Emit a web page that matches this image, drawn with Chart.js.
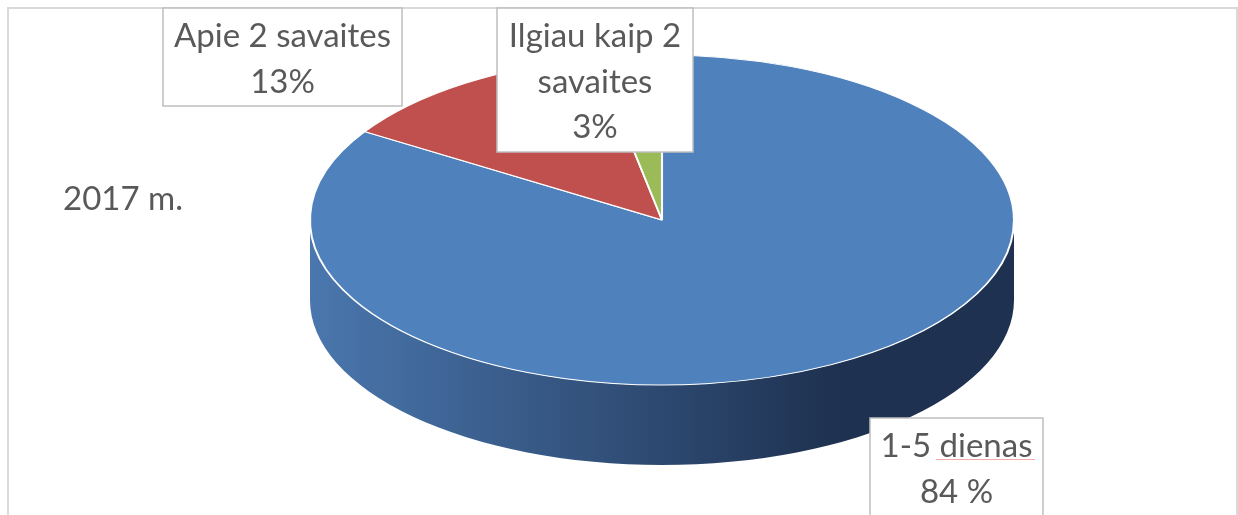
<!DOCTYPE html>
<html>
<head>
<meta charset="utf-8">
<script src="https://cdn.jsdelivr.net/npm/chart.js@4/dist/chart.umd.min.js"></script>
<style>
  html, body { margin: 0; padding: 0; background: #fff; }
  #wrap { width: 1238px; height: 515px; position: relative; }
</style>
</head>
<body>
<div id="wrap"><canvas id="pie" width="1238" height="515"></canvas></div>
<script>
const categories = ["1-5 dienas", "Apie 2 savaites", "Ilgiau kaip 2 savaites"];
const shares = [84, 13, 3];
const shareLabels = ["84 %", "13%", "3%"];
const seriesTitle = "2017 m.";

const sliceColors = ["#4f81bd", "#c0504d", "#9bbb59"];
const wallLeft = ["#4a77ae", "#b04a47", "#8eab52"];
const wallRight = ["#1e3150", "#4a1f1e", "#3c4922"];

// ellipse of the pie's top face and the depth of its side
const EX = 662, EY = 220, RX = 352, RY = 165, DEPTH = 80;

// where the label boxes sit, per category
const boxes = [
  { x: 870, y: 418, w: 173, h: 110 },
  { x: 163, y: 8, w: 239, h: 98 },
  { x: 497, y: 8, w: 196, h: 144 }
];

const FONT = "33px Lato, Carlito, Calibri, sans-serif";
const TEXT = "#595959";

function wrapText(ctx, text, maxW) {
  const words = text.split(" ");
  const lines = [];
  let cur = "";
  words.forEach(w => {
    const t = cur ? cur + " " + w : w;
    if (cur && ctx.measureText(t).width > maxW) {
      lines.push(cur);
      cur = w;
    } else cur = t;
  });
  if (cur) lines.push(cur);
  return lines;
}

const pie3d = {
  id: "pie3d",
  beforeDatasetsDraw(chart) {
    const ctx = chart.ctx;
    const arcs = chart.getDatasetMeta(0).data;
    // side wall, front half only (angles 0..PI on screen)
    arcs.forEach((arc, i) => {
      let a0 = arc.startAngle, a1 = arc.endAngle;
      for (let k = -1; k <= 1; k++) {
        const lo = Math.max(a0, k * 2 * Math.PI);
        const hi = Math.min(a1, k * 2 * Math.PI + Math.PI);
        if (hi <= lo) continue;
        const g = ctx.createLinearGradient(EX - RX, 0, EX + RX, 0);
        g.addColorStop(0, wallLeft[i]);
        g.addColorStop(0.75, wallRight[i]);
        g.addColorStop(1, wallRight[i]);
        ctx.beginPath();
        ctx.ellipse(EX, EY, RX, RY, 0, lo, hi, false);
        ctx.lineTo(EX + RX * Math.cos(hi), EY + DEPTH + RY * Math.sin(hi));
        ctx.ellipse(EX, EY + DEPTH, RX, RY, 0, hi, lo, true);
        ctx.closePath();
        ctx.fillStyle = g;
        ctx.fill();
      }
    });
    // squash the library's circle onto the top-face ellipse
    const a = arcs[0];
    ctx.save();
    ctx.translate(EX, EY);
    ctx.scale(RX / a.outerRadius, RY / a.outerRadius);
    ctx.translate(-a.x, -a.y);
  },
  afterDatasetsDraw(chart) {
    chart.ctx.restore();
  },
  afterDraw(chart) {
    const ctx = chart.ctx;
    ctx.save();
    // chart frame
    ctx.strokeStyle = "#d9d9d9";
    ctx.lineWidth = 2;
    ctx.strokeRect(8, 8, 1229, 520);

    ctx.font = FONT;
    ctx.fillStyle = TEXT;
    ctx.textBaseline = "alphabetic";
    ctx.textAlign = "left";
    ctx.fillText(seriesTitle, 63, 210);

    ctx.textAlign = "center";
    categories.forEach((name, i) => {
      const b = boxes[i];
      ctx.fillStyle = "#fff";
      ctx.fillRect(b.x, b.y, b.w, b.h);
      ctx.strokeStyle = "#bfbfbf";
      ctx.lineWidth = 1.5;
      ctx.strokeRect(b.x, b.y, b.w, b.h);
      const lines = wrapText(ctx, name, b.w - 10);
      lines.push(shareLabels[i]);
      ctx.fillStyle = TEXT;
      lines.forEach((ln, j) => {
        ctx.fillText(ln, b.x + b.w / 2, b.y + 39 + j * 45.5);
      });
    });
    // spell-check squiggle under "dienas"
    const b0 = boxes[0];
    ctx.strokeStyle = "#f4a8a8";
    ctx.lineWidth = 1;
    ctx.beginPath();
    ctx.moveTo(b0.x + 66, b0.y + 41.5);
    ctx.lineTo(b0.x + 165, b0.y + 41.5);
    ctx.stroke();
    ctx.restore();
  }
};

new Chart(document.getElementById("pie"), {
  type: "pie",
  data: {
    labels: categories,
    datasets: [{
      data: shares,
      backgroundColor: sliceColors,
      borderColor: "#ffffff",
      borderWidth: 1.5,
      clip: false
    }]
  },
  options: {
    responsive: false,
    animation: false,
    events: [],
    layout: { padding: 0 },
    plugins: {
      legend: { display: false },
      tooltip: { enabled: false }
    }
  },
  plugins: [pie3d]
});
</script>
</body>
</html>
